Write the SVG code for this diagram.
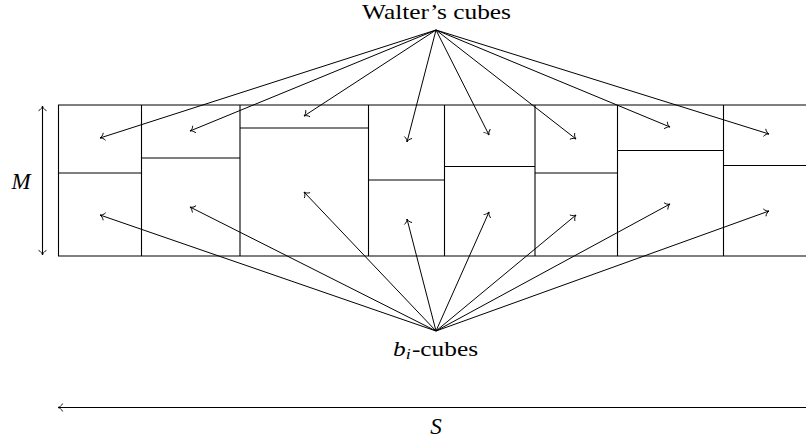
<svg xmlns="http://www.w3.org/2000/svg" width="806" height="440" viewBox="0 0 806 440">
<style>
.ln{stroke:#000;stroke-width:1.1;fill:none}
.ar{stroke:#000;stroke-width:1;fill:none;marker-end:url(#to)}
.tx{font-family:"Liberation Serif","DejaVu Serif",serif;font-size:21px;fill:#000}
.it{font-style:italic}
.big{font-size:23px}
</style>
<defs>
<marker id="to" viewBox="-7 -5 9 10" markerWidth="9" markerHeight="10" refX="0" refY="0" markerUnits="userSpaceOnUse" orient="auto-start-reverse" overflow="visible">
<path d="M-4.5,-3.6 C-3.6,-1.6 -1.4,-0.3 0,0 C-1.4,0.3 -3.6,1.6 -4.5,3.6" stroke="#000" stroke-width="0.9" fill="none" stroke-linecap="round"/>
</marker>
</defs>
<rect width="806" height="440" fill="#fff"/>
<g id="cubes">
<line class="ln" x1="58" y1="105" x2="806" y2="105"/>
<line class="ln" x1="58" y1="256" x2="806" y2="256"/>
<line class="ln" x1="58.5" y1="105" x2="58.5" y2="256"/>
<line class="ln" x1="141.5" y1="105" x2="141.5" y2="256"/>
<line class="ln" x1="240" y1="105" x2="240" y2="256"/>
<line class="ln" x1="368.5" y1="105" x2="368.5" y2="256"/>
<line class="ln" x1="444.5" y1="105" x2="444.5" y2="256"/>
<line class="ln" x1="535" y1="105" x2="535" y2="256"/>
<line class="ln" x1="617.5" y1="105" x2="617.5" y2="256"/>
<line class="ln" x1="723.5" y1="105" x2="723.5" y2="256"/>
<line class="ln" x1="58" y1="173" x2="141.5" y2="173"/>
<line class="ln" x1="141.5" y1="158" x2="240" y2="158"/>
<line class="ln" x1="240" y1="128" x2="368.5" y2="128"/>
<line class="ln" x1="368.5" y1="180" x2="444.5" y2="180"/>
<line class="ln" x1="444.5" y1="166.5" x2="535" y2="166.5"/>
<line class="ln" x1="535" y1="173" x2="617.5" y2="173"/>
<line class="ln" x1="617.5" y1="150.5" x2="723.5" y2="150.5"/>
<line class="ln" x1="723.5" y1="165.5" x2="806" y2="165.5"/>
</g>
<g id="label-walter">
<text class="tx" x="362" y="19" textLength="149" lengthAdjust="spacingAndGlyphs">Walter’s cubes</text>
</g>
<g id="label-bi">
<text class="tx" x="393" y="356" textLength="85" lengthAdjust="spacingAndGlyphs"><tspan class="it">b</tspan><tspan class="it" style="font-size:15px" dy="3">i</tspan><tspan dy="-3" dx="1">-cubes</tspan></text>
</g>
<g id="dim-M">
<line class="ln" x1="42.5" y1="106" x2="42.5" y2="255" marker-start="url(#to)" marker-end="url(#to)"/>
<text class="tx it big" x="21" y="189" text-anchor="middle">M</text>
</g>
<g id="dim-S">
<line class="ln" x1="806" y1="407.5" x2="58" y2="407.5" marker-end="url(#to)"/>
<text class="tx it big" x="436" y="434" text-anchor="middle">S</text>
</g>
<g id="connectors">
<line class="ar" x1="436" y1="30" x2="100" y2="138"/>
<line class="ar" x1="436" y1="30" x2="190" y2="131"/>
<line class="ar" x1="436" y1="30" x2="304" y2="116"/>
<line class="ar" x1="436" y1="30" x2="407" y2="142"/>
<line class="ar" x1="436" y1="30" x2="489" y2="135"/>
<line class="ar" x1="436" y1="30" x2="576" y2="139"/>
<line class="ar" x1="436" y1="30" x2="670" y2="127"/>
<line class="ar" x1="436" y1="30" x2="769" y2="134"/>
<line class="ar" x1="436" y1="331" x2="100" y2="215"/>
<line class="ar" x1="436" y1="331" x2="190" y2="207"/>
<line class="ar" x1="436" y1="331" x2="304" y2="192"/>
<line class="ar" x1="436" y1="331" x2="407" y2="219"/>
<line class="ar" x1="436" y1="331" x2="489" y2="212"/>
<line class="ar" x1="436" y1="331" x2="576" y2="215"/>
<line class="ar" x1="436" y1="331" x2="670" y2="204"/>
<line class="ar" x1="436" y1="331" x2="769" y2="211"/>
</g>
</svg>
